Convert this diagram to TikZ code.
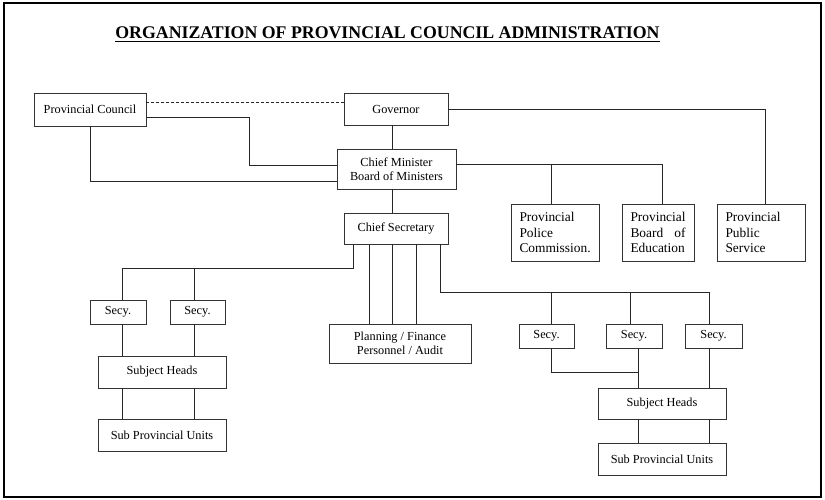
\documentclass[tikz,border=0pt]{standalone}
\usepackage{fontspec}
\setmainfont{Liberation Serif}
\begin{document}
\begin{tikzpicture}[x=1pt,y=-1pt,
  box/.style={draw=black!80, line width=0.9pt, inner sep=0pt, align=center,
    font=\fontsize{12.3}{14.5}\selectfont},
  lbox/.style={draw=black!80, line width=0.9pt, inner xsep=8.5pt, inner ysep=0pt,
    align=left, minimum height=57pt, font=\fontsize{13.4}{15.5}\selectfont},
  link/.style={draw=black!85, line width=0.8pt},
]
\useasboundingbox (0,0) rectangle (825,500);
% outer frame
\draw[line width=2.4pt] (4,3) rectangle (821,497);

% title
\node[inner sep=0pt, font=\fontsize{17.8}{20}\selectfont\bfseries] (title) at (387.5,33)
  {ORGANIZATION OF PROVINCIAL COUNCIL ADMINISTRATION};
\draw[line width=1pt] ([yshift=-3pt]title.base west) -- ([yshift=-3pt]title.base east);

% upper level
\node[box, minimum width=112pt, minimum height=33pt] (pc)  at (90,109.5) {Provincial Council};
\node[box, minimum width=104pt, minimum height=32pt] (gov) at (396,109) {Governor};
\node[box, minimum width=119pt, minimum height=40pt] (cm)  at (396.5,169) {Chief Minister\\Board of Ministers};
\node[box, minimum width=104pt, minimum height=31pt] (cs)  at (396,228.5) {Chief Secretary};

\node[lbox, text width=71pt] (police) at (555,232.5) {Provincial\\Police\\Commission.};
\node[lbox, text width=55pt] (board)  at (658,232.5) {Provincial\\\leavevmode\hbox to\hsize{Board\hfill of}\\Education};
\node[lbox, text width=71pt] (pps)    at (761,232.5) {Provincial\\Public\\Service};

\node[box, minimum width=142pt, minimum height=39pt] (plan) at (400,343.5) {Planning / Finance\\Personnel / Audit};

% left branch
\node[box, minimum width=56pt, minimum height=24pt]  (ls1)  at (118,312) {Secy.};
\node[box, minimum width=55pt, minimum height=24pt]  (ls2)  at (197.5,312) {Secy.};
\node[box, minimum width=128pt, minimum height=32pt] (lsh)  at (162,372) {Subject Heads};
\node[box, minimum width=128pt, minimum height=32pt] (lspu) at (162,435) {Sub Provincial Units};

% right branch
\node[box, minimum width=55pt, minimum height=24pt]  (rs1)  at (546.5,336) {Secy.};
\node[box, minimum width=56pt, minimum height=24pt]  (rs2)  at (634,336) {Secy.};
\node[box, minimum width=57pt, minimum height=24pt]  (rs3)  at (713.5,336) {Secy.};
\node[box, minimum width=128pt, minimum height=31pt] (rsh)  at (662,403.5) {Subject Heads};
\node[box, minimum width=128pt, minimum height=32pt] (rspu) at (662,459) {Sub Provincial Units};

% bus levels
\coordinate (busL) at (0,268);
\coordinate (busR) at (0,292);
\coordinate (busM) at (0,372);
\coordinate (cmR)  at ([yshift=5pt]cm.east);

% council, governor, chief minister
\draw[link, dash pattern=on 3pt off 2pt] ([yshift=7pt]gov.west) -- ([yshift=7pt]gov.west -| pc.east);
\draw[link] ([yshift=-7.5pt]pc.east) -- ++(103,0) |- ([yshift=4pt]cm.west);
\draw[link] (pc.south) |- ([yshift=-12pt]cm.west);
\draw[link] ([xshift=-4pt]gov.south) -- ([xshift=-4pt]gov.south |- cm.north);
\draw[link] (gov.east) -| ([xshift=4pt]pps.north);
\draw[link] (cmR) -| ([xshift=4pt]board.north);
\coordinate (polT) at ([xshift=-4pt]police.north);
\draw[link] (polT) -- (polT |- cmR);
\draw[link] ([xshift=-4.5pt]cm.south) -- ([xshift=-4.5pt]cm.south |- cs.north);

% chief secretary outlets
\coordinate (csA) at ([xshift=-43pt]cs.south);
\coordinate (csB) at ([xshift=-27pt]cs.south);
\coordinate (csC) at ([xshift=-4pt]cs.south);
\coordinate (csD) at ([xshift=20pt]cs.south);
\coordinate (csE) at ([xshift=44pt]cs.south);

\draw[link] (csB) -- (csB |- plan.north);
\draw[link] (csC) -- (csC |- plan.north);
\draw[link] (csD) -- (csD |- plan.north);

% left secretaries
\coordinate (l1T) at ([xshift=4pt]ls1.north);
\coordinate (l2T) at ([xshift=-3.5pt]ls2.north);
\draw[link] (csA) -- (csA |- busL) -| (l1T);
\draw[link] (l2T) -- (l2T |- busL);
\coordinate (l1B) at ([xshift=4pt]ls1.south);
\coordinate (l2B) at ([xshift=-3.5pt]ls2.south);
\draw[link] (l1B) -- (l1B |- lsh.north);
\draw[link] (l2B) -- (l2B |- lsh.north);
\draw[link] (l1B |- lsh.south) -- (l1B |- lspu.north);
\draw[link] (l2B |- lsh.south) -- (l2B |- lspu.north);

% right secretaries
\coordinate (r1T) at ([xshift=4.5pt]rs1.north);
\coordinate (r2T) at ([xshift=-4pt]rs2.north);
\coordinate (r3T) at ([xshift=-4.5pt]rs3.north);
\draw[link] (csE) -- (csE |- busR) -| (r3T);
\draw[link] (r1T) -- (r1T |- busR);
\draw[link] (r2T) -- (r2T |- busR);
\coordinate (r1B) at ([xshift=4.5pt]rs1.south);
\coordinate (r2B) at ([xshift=4pt]rs2.south);
\coordinate (r3B) at ([xshift=-4.5pt]rs3.south);
\draw[link] (r1B) -- (r1B |- busM) -- (r2B |- busM);
\draw[link] (r2B) -- (r2B |- rsh.north);
\draw[link] (r3B) -- (r3B |- rsh.north);
\draw[link] (r2B |- rsh.south) -- (r2B |- rspu.north);
\draw[link] (r3B |- rsh.south) -- (r3B |- rspu.north);
\end{tikzpicture}
\end{document}
